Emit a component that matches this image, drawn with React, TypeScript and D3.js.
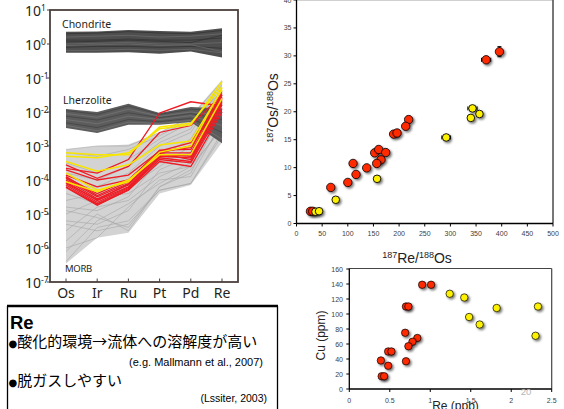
import React from 'react';
import * as d3 from 'd3';

// ---------- Left panel: spider diagram ----------
const elements = ['Os', 'Ir', 'Ru', 'Pt', 'Pd', 'Re'];
const decadeExponents = [1, 0, -1, -2, -3, -4, -5, -6, -7];

const chondriteUpper = [2.3, 2.35, 2.6, 2.4, 2.3, 2.9];
const chondriteLower = [0.55, 0.55, 0.57, 0.52, 0.6, 0.4];
const chondriteLines = [
  [2.0, 2.1, 2.3, 2.1, 2.0, 2.5],
  [1.6, 1.7, 1.8, 1.6, 1.7, 2.0],
  [1.3, 1.3, 1.4, 1.3, 1.3, 1.5],
  [1.0, 1.05, 1.1, 1.0, 1.0, 1.1],
  [0.8, 0.85, 0.85, 0.8, 0.85, 0.75],
  [0.65, 0.65, 0.7, 0.65, 0.7, 0.55],
  [1.15, 1.2, 1.3, 1.2, 1.1, 1.8],
  [0.9, 0.95, 1.0, 0.9, 0.95, 0.6],
];

const lherzoliteUpper = [0.0123, 0.01, 0.0174, 0.0093, 0.014, 0.0126];
const lherzoliteLower = [0.0034, 0.0024, 0.0042, 0.0042, 0.0051, 0.0012];
const lherzoliteLines = [
  [0.011, 0.0085, 0.015, 0.0085, 0.012, 0.011],
  [0.009, 0.007, 0.012, 0.0075, 0.01, 0.008],
  [0.0075, 0.0058, 0.0095, 0.0068, 0.009, 0.006],
  [0.006, 0.0045, 0.0075, 0.006, 0.0078, 0.004],
  [0.0048, 0.0035, 0.006, 0.0052, 0.0065, 0.0025],
  [0.004, 0.0028, 0.005, 0.0046, 0.0057, 0.0016],
];

const morbUpper = [7.9e-4, 1.0e-3, 1.1e-3, 2.5e-3, 7.9e-3, 8.9e-2];
const morbLower = [3.5e-7, 2.0e-6, 2.8e-6, 4.0e-5, 7.1e-5, 1.26e-3];
const morbLines = [
  [4.0e-7, 4.0e-6, 6.3e-6, 5.0e-5, 7.9e-5, 2.5e-3],
  [1.0e-6, 2.0e-6, 1.6e-5, 1.0e-4, 1.26e-4, 5.0e-3],
  [1.6e-6, 1.0e-5, 3.2e-6, 6.3e-5, 1.6e-4, 1.0e-2],
  [3.2e-6, 1.6e-5, 2.5e-5, 1.26e-4, 3.2e-4, 1.6e-2],
  [6.3e-6, 5.0e-6, 1.26e-5, 2.0e-4, 5.0e-4, 3.2e-2],
  [1.0e-5, 2.5e-5, 6.3e-5, 2.5e-4, 1.0e-3, 2.0e-2],
  [1.6e-5, 1.26e-5, 3.2e-5, 4.0e-4, 6.3e-4, 6.3e-3],
  [2.5e-5, 4.0e-5, 1.0e-4, 5.0e-4, 1.6e-3, 5.0e-2],
  [4.0e-5, 2.0e-5, 5.0e-5, 3.2e-4, 4.0e-4, 1.26e-2],
  [6.3e-5, 6.3e-5, 1.6e-4, 1.0e-3, 2.5e-3, 6.3e-2],
  [1.0e-4, 3.2e-5, 4.0e-5, 1.6e-4, 2.5e-4, 3.2e-3],
  [1.6e-4, 1.0e-4, 2.5e-4, 1.26e-3, 3.2e-3, 7.9e-2],
  [3.2e-4, 1.6e-4, 4.0e-4, 1.6e-3, 5.0e-3, 4.0e-2],
  [6.3e-4, 5.0e-4, 7.9e-4, 2.0e-3, 6.3e-3, 2.5e-2],
  [7.9e-4, 1.0e-3, 1.0e-3, 2.5e-3, 7.1e-3, 7.9e-2],
  [5.0e-6, 3.2e-6, 5.0e-6, 5.0e-5, 7.9e-5, 2.0e-3],
  [1.26e-5, 7.9e-6, 4.0e-6, 6.3e-5, 2.0e-4, 4.0e-3],
  [7.9e-7, 6.3e-6, 2.0e-5, 7.9e-5, 2.5e-4, 7.9e-3],
];

const redLines = [
  [1.26e-4, 3.5e-5, 8.9e-5, 7.6e-4, 7.9e-4, 3.2e-2],
  [1.12e-4, 3.2e-5, 7.9e-5, 6.3e-4, 6.3e-4, 2.8e-2],
  [1.0e-4, 2.8e-5, 7.1e-5, 5.6e-4, 5.0e-4, 2.5e-2],
  [8.9e-5, 2.5e-5, 6.3e-5, 5.0e-4, 4.5e-4, 2.0e-2],
  [7.9e-5, 2.2e-5, 6.0e-5, 4.5e-4, 3.5e-4, 1.6e-2],
  [7.1e-5, 2.0e-5, 5.6e-5, 4.0e-4, 3.2e-4, 1.26e-2],
  [6.3e-5, 1.9e-5, 5.0e-5, 3.5e-4, 2.5e-4, 1.0e-2],
  [6.0e-5, 1.8e-5, 5.2e-5, 5.0e-4, 5.6e-4, 2.2e-2],
  [1.2e-4, 4.0e-5, 1.0e-4, 7.1e-4, 8.9e-4, 3.5e-2],
  [8.3e-5, 2.6e-5, 7.6e-5, 6.0e-4, 4.0e-4, 1.8e-2],
  [2.2e-4, 1.6e-4, 4.0e-4, 9.3e-3, 2.0e-2, 1.5e-2],
  [2.8e-4, 1.12e-4, 2.5e-4, 2.5e-3, 4.0e-3, 3.2e-2],
  [2.0e-4, 1.0e-4, 1.4e-4, 7.1e-4, 1.26e-3, 4.0e-2],
  [1.4e-4, 6.3e-5, 1.0e-4, 6.3e-4, 1.0e-3, 2.5e-2],
];

const yellowLines = [
  [6.3e-4, 5.5e-4, 5.5e-4, 3.6e-3, 4.7e-3, 5.5e-2],
  [3.5e-4, 1.8e-4, 2.8e-4, 1.07e-3, 1.4e-3, 4.5e-2],
  [1.6e-4, 5.0e-5, 8.9e-5, 6.6e-4, 1.0e-3, 5.0e-2],
  [8.9e-5, 4.5e-5, 1.0e-4, 5.5e-4, 5.6e-4, 2.5e-2],
  [5.0e-4, 4.5e-4, 6.3e-4, 3.2e-3, 4.2e-3, 7.9e-2],
];

// ---------- Top-right: 187Os/188Os vs 187Re/188Os ----------
const reOsTicks = [0, 50, 100, 150, 200, 250, 300, 350, 400, 450, 500];
const osOsTicks = [0, 5, 10, 15, 20, 25, 30, 35, 40];
const redReOs = [369.6, 395.6, 218.6, 212.8, 189.3, 196, 152.4, 160.2, 173.9, 110.2, 164.7, 156.3, 136.8, 116, 100, 66.8, 27.2, 31.7];
const redOsOs = [29.3, 30.75, 18.6, 17.4, 16.0, 16.2, 12.65, 13.25, 12.7, 10.75, 11.4, 10.75, 9.96, 8.78, 7.35, 6.46, 2.18, 2.18];
const redXErr = [9, 0, 0, 0, 0, 0, 0, 0, 0, 0, 0, 0, 0, 0, 0, 0, 0, 0];
const redYErr = [0, 0.9, 0, 0, 0, 0, 0, 0, 0, 0, 0, 0, 0, 0, 0, 0, 0, 0];
const yellowReOs = [343, 356.6, 339.8, 291.8, 157, 76.5, 37, 44];
const yellowOsOs = [20.6, 19.6, 18.9, 15.4, 8.0, 4.25, 2.1, 2.2];
const yellowXErr = [9, 0, 0, 8.5, 0, 0, 0, 0];

// ---------- Bottom-right: Cu vs Re ----------
const reTicks = [0, 0.5, 1, 1.5, 2, 2.5];
const cuTicks = [0, 20, 40, 60, 80, 100, 120, 140, 160];
const redRe = [0.9, 1.01, 0.7, 0.73, 0.69, 0.84, 0.78, 0.73, 0.48, 0.52, 0.39, 0.48, 0.7, 0.4, 0.43];
const redCu = [139, 139, 110, 110, 75, 68, 63, 57, 50, 50, 38, 31, 37, 17, 17];
const yellowRe = [1.24, 1.42, 1.48, 1.61, 1.82, 2.33, 2.3];
const yellowCu = [127, 122, 96, 86, 108, 110, 71];

const RED = '#ff2a00';
const YEL = '#fff200';
const LRED = '#ee1c25';
const LYEL = '#f7e600';

export default function App() {
  // left scales
  const xL = d3.scalePoint<string>().domain(elements).range([66, 222]);
  const yL = d3.scaleLog().domain([1e-7, 10]).range([282, 10]);
  const lineL = d3
    .line<number>()
    .x((_, i) => xL(elements[i]) as number)
    .y((d) => yL(d));
  const bandL = (up: number[], lo: number[]) =>
    d3
      .area<number>()
      .x((_, i) => xL(elements[i]) as number)
      .y0((_, i) => yL(lo[i]))
      .y1((_, i) => yL(up[i]))(up) as string;

  // top-right scales
  const xA = d3.scaleLinear().domain([0, 500]).range([296.5, 553]);
  const yA = d3.scaleLinear().domain([0, 40]).range([223.5, 0]);
  // bottom-right scales
  const xB = d3.scaleLinear().domain([0, 2.5]).range([349.3, 551.7]);
  const yB = d3.scaleLinear().domain([0, 160]).range([389, 269]);

  const sans = 'Noto Sans, sans-serif';
  const arial = 'Liberation Sans, Arial, sans-serif';
  const jp = 'Noto Sans CJK JP, sans-serif';
  const bullet = 'DejaVu Sans, sans-serif';

  return (
    <svg
      width={564}
      height={409}
      style={{ position: 'absolute', left: 0, top: 0, background: '#fff' }}
    >
      <defs>
        <filter id="sh" x="-60%" y="-60%" width="220%" height="220%">
          <feDropShadow dx="1.6" dy="1.6" stdDeviation="0.8" floodColor="#000" floodOpacity="0.55" />
        </filter>
        <clipPath id="clipL">
          <rect x={50} y={10} width={188} height={272} />
        </clipPath>
      </defs>

      {/* ===== Left spider diagram ===== */}
      <g clipPath="url(#clipL)">
        <path d={bandL(morbUpper, morbLower)} fill="#d3d3d3" />
        {morbLines.map((l, i) => (
          <path key={'m' + i} d={lineL(l) as string} fill="none" stroke="#a6a6a6" strokeWidth={0.6} />
        ))}
        <path d={bandL(lherzoliteUpper, lherzoliteLower)} fill="#5c5c5c" />
        {lherzoliteLines.map((l, i) => (
          <path key={'l' + i} d={lineL(l) as string} fill="none" stroke={i % 2 ? '#787878' : '#404040'} strokeWidth={0.7} />
        ))}
        <path d={bandL(chondriteUpper, chondriteLower)} fill="#4e4e4e" />
        {chondriteLines.map((l, i) => (
          <path key={'c' + i} d={lineL(l) as string} fill="none" stroke={i % 2 ? '#6e6e6e' : '#2f2f2f'} strokeWidth={0.7} />
        ))}
        {redLines.map((l, i) => (
          <path key={'r' + i} d={lineL(l) as string} fill="none" stroke={LRED} strokeWidth={1.3} />
        ))}
        {yellowLines.map((l, i) => (
          <path key={'y' + i} d={lineL(l) as string} fill="none" stroke={LYEL} strokeWidth={1.5} />
        ))}
      </g>
      <rect x={50} y={10} width={188} height={272} fill="none" stroke="#4b413d" strokeWidth={1.8} />
      {decadeExponents.map((e) => {
        const y = yL(Math.pow(10, e));
        return (
          <g key={'d' + e}>
            <line x1={47} x2={50} y1={y} y2={y} stroke="#4b413d" strokeWidth={1} />
            <text x={25} y={y + 6} fontFamily={sans} fontSize={14} fill="#231f20">
              10
              <tspan fontSize={8.5} dy={-5.5}>{e < 0 ? '-' + Math.abs(e) : String(e)}</tspan>
            </text>
          </g>
        );
      })}
      {elements.map((el) => (
        <g key={el}>
          <line x1={xL(el)} x2={xL(el)} y1={282} y2={278.5} stroke="#4b413d" strokeWidth={1} />
          <text x={xL(el)} y={298} textAnchor="middle" fontFamily={sans} fontSize={14} fill="#231f20">
            {el}
          </text>
        </g>
      ))}
      <text x={62} y={28} fontFamily={sans} fontSize={10.5} fill="#231f20">Chondrite</text>
      <text x={63} y={104} fontFamily={sans} fontSize={10.5} fill="#231f20">Lherzolite</text>
      <text x={65} y={272} fontFamily={sans} fontSize={9.5} fill="#231f20" letterSpacing={-0.3}>MORB</text>

      {/* ===== Text box ===== */}
      <line x1={7} x2={278} y1={306} y2={306} stroke="#000" strokeWidth={2.5} />
      <line x1={7.5} x2={7.5} y1={306} y2={409} stroke="#000" strokeWidth={1.3} />
      <line x1={277.5} x2={277.5} y1={306} y2={409} stroke="#000" strokeWidth={1.3} />
      <text x={10} y={329} fontFamily={arial} fontWeight="bold" fontSize={18.5} fill="#000">Re</text>
      <text x={8.5} y={347} fontFamily={jp} fontSize={15} fill="#000">
        <tspan fontFamily={bullet} fontSize={10}>●</tspan>
        <tspan>酸化的環境→流体への溶解度が高い</tspan>
      </text>
      <text x={263} y={366} textAnchor="end" fontFamily={arial} fontSize={11} fill="#000">(e.g. Mallmann et al., 2007)</text>
      <text x={8.5} y={386} fontFamily={jp} fontSize={15} fill="#000">
        <tspan fontFamily={bullet} fontSize={10}>●</tspan>
        <tspan>脱ガスしやすい</tspan>
      </text>
      <text x={267} y={402} textAnchor="end" fontFamily={arial} fontSize={10.5} fill="#000">(Lssiter, 2003)</text>

      {/* ===== Top-right scatter ===== */}
      <line x1={296.5} x2={553} y1={0.5} y2={0.5} stroke="#d0d0d0" strokeWidth={1} />
      <line x1={553} x2={553} y1={0} y2={223.5} stroke="#555" strokeWidth={1.6} />
      <line x1={296.5} x2={296.5} y1={0} y2={223.5} stroke="#000" strokeWidth={1.3} />
      <line x1={296.5} x2={553} y1={223.5} y2={223.5} stroke="#000" strokeWidth={1.3} />
      {reOsTicks.map((t) => (
        <g key={'xa' + t}>
          <line x1={xA(t)} x2={xA(t)} y1={223.5} y2={226.5} stroke="#000" strokeWidth={1} />
          <text x={xA(t)} y={235.5} textAnchor="middle" fontFamily={arial} fontSize={7} fill="#404040">{t}</text>
        </g>
      ))}
      {osOsTicks.map((t) => (
        <g key={'ya' + t}>
          <line x1={293.5} x2={296.5} y1={yA(t)} y2={yA(t)} stroke="#000" strokeWidth={1} />
          <text x={291.5} y={yA(t) + 2.5} textAnchor="end" fontFamily={arial} fontSize={7} fill="#404040">{t}</text>
        </g>
      ))}
      <text x={417} y={263} textAnchor="middle" fontFamily={arial} fontSize={14} fill="#222">
        <tspan fontSize={9} dy={-5}>187</tspan>
        <tspan dy={5}>Re/</tspan>
        <tspan fontSize={9} dy={-5}>188</tspan>
        <tspan dy={5}>Os</tspan>
      </text>
      <text transform="translate(278,108) rotate(-90)" textAnchor="middle" fontFamily={arial} fontSize={14} fill="#222">
        <tspan fontSize={9} dy={-5}>187</tspan>
        <tspan dy={5}>Os/</tspan>
        <tspan fontSize={9} dy={-5}>188</tspan>
        <tspan dy={5}>Os</tspan>
      </text>
      {/* error bars */}
      {redReOs.map((x, i) =>
        redXErr[i] > 0 ? (
          <g key={'rex' + i} stroke="#000" strokeWidth={1}>
            <line x1={xA(x - redXErr[i])} x2={xA(x + redXErr[i])} y1={yA(redOsOs[i])} y2={yA(redOsOs[i])} />
            <line x1={xA(x - redXErr[i])} x2={xA(x - redXErr[i])} y1={yA(redOsOs[i]) - 2} y2={yA(redOsOs[i]) + 2} />
            <line x1={xA(x + redXErr[i])} x2={xA(x + redXErr[i])} y1={yA(redOsOs[i]) - 2} y2={yA(redOsOs[i]) + 2} />
          </g>
        ) : null
      )}
      {redReOs.map((x, i) =>
        redYErr[i] > 0 ? (
          <g key={'rey' + i} stroke="#000" strokeWidth={1}>
            <line x1={xA(x)} x2={xA(x)} y1={yA(redOsOs[i] - redYErr[i])} y2={yA(redOsOs[i] + redYErr[i])} />
            <line x1={xA(x) - 2} x2={xA(x) + 2} y1={yA(redOsOs[i] + redYErr[i])} y2={yA(redOsOs[i] + redYErr[i])} />
            <line x1={xA(x) - 2} x2={xA(x) + 2} y1={yA(redOsOs[i] - redYErr[i])} y2={yA(redOsOs[i] - redYErr[i])} />
          </g>
        ) : null
      )}
      {yellowReOs.map((x, i) =>
        yellowXErr[i] > 0 ? (
          <g key={'yex' + i} stroke="#000" strokeWidth={1}>
            <line x1={xA(x - yellowXErr[i])} x2={xA(x + yellowXErr[i])} y1={yA(yellowOsOs[i])} y2={yA(yellowOsOs[i])} />
            <line x1={xA(x - yellowXErr[i])} x2={xA(x - yellowXErr[i])} y1={yA(yellowOsOs[i]) - 2} y2={yA(yellowOsOs[i]) + 2} />
            <line x1={xA(x + yellowXErr[i])} x2={xA(x + yellowXErr[i])} y1={yA(yellowOsOs[i]) - 2} y2={yA(yellowOsOs[i]) + 2} />
          </g>
        ) : null
      )}
      {redReOs.map((x, i) => (
        <circle key={'ra' + i} cx={xA(x)} cy={yA(redOsOs[i])} r={4.2} fill={RED} stroke="#000" strokeWidth={0.8} filter="url(#sh)" />
      ))}
      {yellowReOs.map((x, i) => (
        <circle key={'ya' + i} cx={xA(x)} cy={yA(yellowOsOs[i])} r={3.8} fill={YEL} stroke="#000" strokeWidth={0.9} filter="url(#sh)" />
      ))}

      {/* ===== Bottom-right scatter ===== */}
      <line x1={349.3} x2={551.7} y1={268.5} y2={268.5} stroke="#444" strokeWidth={1.2} />
      <line x1={551.7} x2={551.7} y1={268.5} y2={389} stroke="#444" strokeWidth={1.2} />
      <line x1={349.3} x2={349.3} y1={268.5} y2={389} stroke="#000" strokeWidth={1.3} />
      <line x1={349.3} x2={551.7} y1={389} y2={389} stroke="#000" strokeWidth={1.3} />
      {reTicks.map((t) => (
        <g key={'xb' + t}>
          <line x1={xB(t)} x2={xB(t)} y1={389} y2={392} stroke="#000" strokeWidth={1} />
          <text x={xB(t)} y={403} textAnchor="middle" fontFamily={arial} fontSize={7} fill="#404040">{t}</text>
        </g>
      ))}
      {cuTicks.map((t) => (
        <g key={'yb' + t}>
          <line x1={346.3} x2={349.3} y1={yB(t)} y2={yB(t)} stroke="#000" strokeWidth={1} />
          <text x={343} y={yB(t) + 2.5} textAnchor="end" fontFamily={arial} fontSize={7} fill="#404040">{t}</text>
        </g>
      ))}
      <text x={526} y={395} textAnchor="middle" fontFamily={arial} fontSize={9.5} fill="#b5b5b5">20</text>
      <text x={455.5} y={410} textAnchor="middle" fontFamily={arial} fontSize={12} fill="#222">Re (ppb)</text>
      <text transform="translate(325,335.5) rotate(-90)" textAnchor="middle" fontFamily={arial} fontSize={12} fill="#222">Cu (ppm)</text>
      {redRe.map((x, i) => (
        <circle key={'rb' + i} cx={xB(x)} cy={yB(redCu[i])} r={3.7} fill={RED} stroke="#000" strokeWidth={0.7} filter="url(#sh)" />
      ))}
      {yellowRe.map((x, i) => (
        <circle key={'yb' + i} cx={xB(x)} cy={yB(yellowCu[i])} r={3.7} fill={YEL} stroke="#000" strokeWidth={0.7} filter="url(#sh)" />
      ))}
    </svg>
  );
}
